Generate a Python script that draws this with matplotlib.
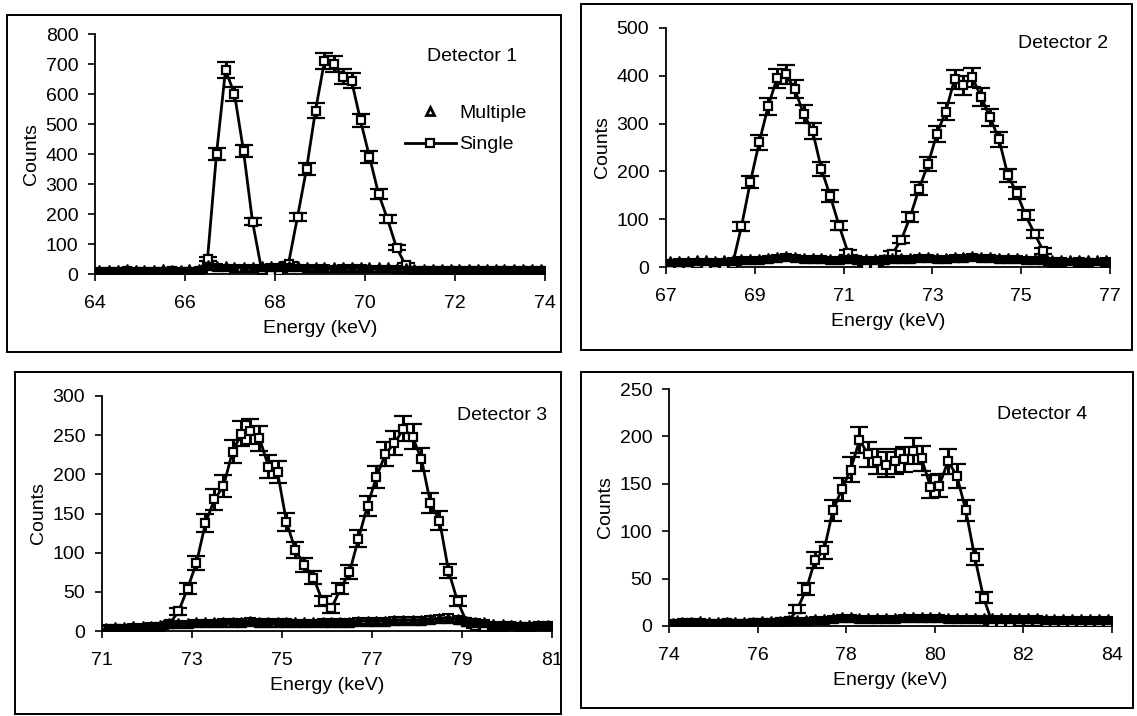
import numpy as np
import matplotlib.pyplot as plt
from matplotlib.patches import Rectangle
from matplotlib.lines import Line2D

plt.rcParams['font.family'] = ['Liberation Sans', 'DejaVu Sans']
plt.rcParams['font.size'] = 14

# energy grids (keV): first channel, 0.2 keV steps, 50 channels
starts = [64.1, 67.1, 71.1, 74.1]
step = 0.2
n_chan = 50

# detector 1
single1 = [8, 7, 8, 9, 8, 7, 8, 8, 9, 8, 7, 9,
           50, 400, 680, 600, 410, 175, 15, 8, 10, 35, 190, 350, 545, 710, 700, 658, 645,
           512, 390, 268, 183, 88, 30,
           10, 9, 10, 11, 10, 9, 10, 10, 11, 10, 9, 10, 11, 10, 10]
multi1 = [14, 15, 15, 16, 15, 14, 15, 16, 15, 15, 16, 17,
          30, 27, 26, 25, 24, 25, 26, 27, 28, 27, 26, 25, 24, 24, 23, 24, 25, 24, 23, 22, 22, 21, 20,
          18, 17, 18, 17, 16, 17, 18, 17, 16, 17, 18, 17, 16, 17, 18]

# detector 2
single2 = [5, 4, 5, 6, 5, 5, 4, 6,
           85, 178, 261, 336, 395, 403, 372, 320, 285, 205, 148, 86, 30,
           15, 5, 5, 15,
           28, 57, 105, 164, 215, 278, 325, 393, 380, 397, 355, 313, 267, 192, 155, 108, 70, 33,
           8, 8, 7, 8, 8, 7, 8]
multi2 = [12, 13, 13, 14, 14, 13, 14, 15,
          16, 17, 17, 18, 20, 22, 21, 19, 18, 18, 17, 17, 18,
          17, 16, 16, 17,
          18, 19, 19, 20, 20, 19, 19, 20, 21, 22, 21, 20, 19, 18, 18, 17, 17, 16,
          15, 15, 14, 15, 14, 14, 15]

# detector 3
single3 = [3, 2, 2, 3, 3, 4, 5, 9,
           25, 54, 87, 138, 168, 185, 229, 252, 255, 246, 210, 203, 139, 103, 84, 68, 38, 29,
           54, 75, 118, 160, 197, 226, 240, 258, 248, 219, 163, 141, 77, 38, 12,
           6, 5, 5, 5, 6, 5, 5, 6, 6]
multi3 = [4, 5, 5, 6, 6, 7, 8, 10,
          10, 10, 11, 11, 11, 12, 12, 12, 13, 12, 12, 12, 12, 11, 11, 11, 12, 12, 12, 12,
          13, 13, 13, 13, 14, 14, 14, 14, 15, 16, 17, 15, 13,
          12, 11, 9, 9, 8, 8, 8, 8, 8]

# detector 4
single4 = [2, 3, 3, 2, 2, 2, 3, 2, 2, 3, 3, 3, 4, 5,
           18, 39, 70, 80, 122, 144, 165, 196, 181, 174, 170, 174, 176, 185, 177, 147, 148,
           174, 158, 122, 73, 30,
           3, 3, 3, 4, 4, 4, 3, 3, 3, 3, 3, 3, 3, 3]
multi4 = [3, 4, 4, 5, 4, 4, 4, 4, 4, 4, 5, 5, 5, 6,
          6, 6, 7, 7, 8, 9, 9, 8, 8, 8, 8, 8, 9, 9, 9, 9, 9, 8, 8, 8, 8, 8,
          8, 8, 8, 8, 8, 8, 7, 7, 7, 7, 7, 7, 7, 7]

titles = ["Detector 1", "Detector 2", "Detector 3", "Detector 4"]
xticks = [[64, 66, 68, 70, 72, 74], [67, 69, 71, 73, 75, 77],
          [71, 73, 75, 77, 79, 81], [74, 76, 78, 80, 82, 84]]
ymax = [800, 500, 300, 250]
ystep = [100, 100, 50, 50]
singles = [single1, single2, single3, single4]
multis = [multi1, multi2, multi3, multi4]

W, H = 1137, 716
fig = plt.figure(figsize=(W / 100, H / 100), dpi=100)

# panel frames (pixels: x0, y0, x1, y1)
frames = [(7, 15, 561, 352), (581, 4, 1132, 350), (15, 372, 561, 714), (581, 372, 1133, 708)]
for x0, y0, x1, y1 in frames:
    fig.add_artist(Rectangle((x0 / W, 1 - y1 / H), (x1 - x0) / W, (y1 - y0) / H,
                             transform=fig.transFigure, fill=False, lw=1.4, color='black'))

# plot areas in pixels
boxes = [(95, 34, 545, 274), (666, 28, 1110, 267), (102, 396, 552, 631), (669, 389, 1112, 626)]
# detector label positions (axes fraction) and alignment
labpos = [(0.738, 0.905, 'left'), (0.995, 0.934, 'right'), (0.99, 0.918, 'right'), (0.944, 0.891, 'right')]

for k in range(4):
    x0, y0, x1, y1 = boxes[k]
    ax = fig.add_axes([x0 / W, 1 - y1 / H, (x1 - x0) / W, (y1 - y0) / H])
    energy = np.round(starts[k] + step * np.arange(n_chan), 1)
    s = np.array(singles[k], dtype=float)
    m = np.array(multis[k], dtype=float)

    ax.errorbar(energy, s, yerr=np.sqrt(s), fmt='-s', color='black', lw=2.0, ms=5.5,
                mfc='white', mec='black', mew=1.6, elinewidth=2.2, capsize=6.5, capthick=2.4, zorder=3)
    ax.errorbar(energy, m, yerr=np.sqrt(m), fmt='^-', color='black', lw=2.5, ms=7,
                elinewidth=1.5, capsize=4, capthick=1.5, zorder=4)

    ax.set_xlim(xticks[k][0], xticks[k][-1])
    ax.set_ylim(0, ymax[k])
    ax.set_xticks(xticks[k])
    ax.set_yticks(np.arange(0, ymax[k] + 1, ystep[k]))
    for sp in ['top', 'right']:
        ax.spines[sp].set_visible(False)
    for sp in ['left', 'bottom']:
        ax.spines[sp].set_linewidth(1.3)
    ax.tick_params(direction='out', length=5, width=1.2, pad=7)
    ax.tick_params(axis='x', pad=10)
    ax.set_xlabel("Energy (keV)", labelpad=6)
    ax.set_ylabel("Counts", labelpad=4)
    lx, ly, ha = labpos[k]
    ax.text(lx, ly, titles[k], transform=ax.transAxes, ha=ha, va='center')

    if k == 0:
        handles = [Line2D([], [], ls='none', marker='^', color='black', ms=6, mfc='white', mew=2),
                   Line2D([], [], ls='-', marker='s', color='black', lw=2, ms=5.5,
                          mfc='white', mec='black', mew=1.6)]
        ax.legend(handles, ["Multiple", "Single"], frameon=False, loc='center left',
                  bbox_to_anchor=(405 / W, 1 - 129 / H), bbox_transform=fig.transFigure,
                  handlelength=2.6, handletextpad=0.2, labelspacing=0.7, borderpad=0,
                  borderaxespad=0)

fig.savefig('out.png', dpi=100)
